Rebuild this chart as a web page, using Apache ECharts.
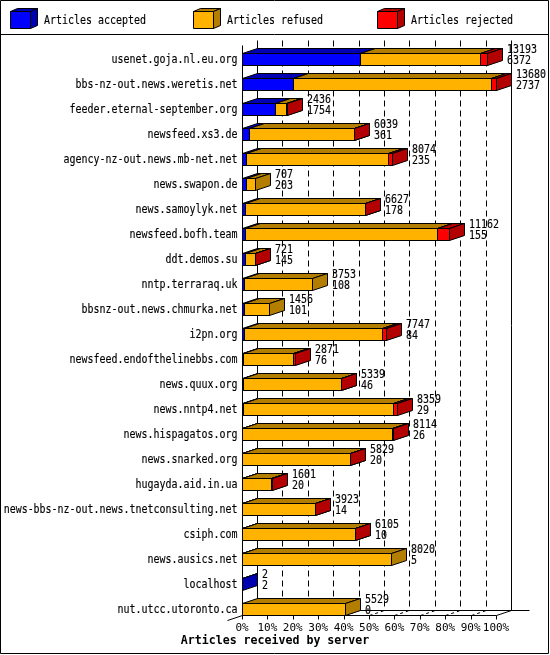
<!DOCTYPE html>
<html><head><meta charset="utf-8">
<script src="https://cdn.jsdelivr.net/npm/echarts@6/dist/echarts.min.js"></script>
<style>html,body{margin:0;padding:0;background:#fff}#c{width:550px;height:655px}</style>
</head><body><div id="c"></div>
<script>
// ---- data ----
const servers = [
  'usenet.goja.nl.eu.org','bbs-nz-out.news.weretis.net','feeder.eternal-september.org','newsfeed.xs3.de',
  'agency-nz-out.news.mb-net.net','news.swapon.de','news.samoylyk.net','newsfeed.bofh.team','ddt.demos.su',
  'nntp.terraraq.uk','bbsnz-out.news.chmurka.net','i2pn.org','newsfeed.endofthelinebbs.com','news.quux.org',
  'news.nntp4.net','news.hispagatos.org','news.snarked.org','hugayda.aid.in.ua',
  'news-bbs-nz-out.news.tnetconsulting.net','csiph.com','news.ausics.net','localhost','nut.utcc.utoronto.ca'
];
const accepted = [6372,2737,1754,361,235,203,178,155,145,108,101,84,76,46,29,26,20,20,14,10,5,2,0];
const refused  = [6471,10673,637,5653,7609,504,6429,10322,536,3645,1355,7483,2645,5273,8115,8058,5794,1566,3899,6085,8015,0,5529];
const rejected = [350,270,45,25,230,0,20,685,40,0,0,180,150,20,215,30,15,15,10,10,0,0,0];
const seriesNames = ['Articles accepted','Articles refused','Articles rejected'];
const xTicks = [0,10,20,30,40,50,60,70,80,90,100];
const axisTitle = 'Articles received by server';

// ---- derived ----
const totals = accepted.map((a,i)=>a+refused[i]+rejected[i]);
const maxTotal = Math.max(...totals);
const pct = v => v / maxTotal * 100;
const barData = servers.map((s,i)=>[i, pct(accepted[i]), pct(refused[i]), pct(rejected[i]), totals[i], accepted[i]]);

// ---- style ----
const FONT = 'DejaVu Sans Mono';
const fronts = ['#0000FF','#FFB200','#FF0000'];
const shades = ['#0000B3','#B37D00','#B30000'];
const DX = 15, DY = 5, HALF = 6, SX = 0.83, TSW = 0.15;
const px = v => Math.round(v) + 0.5;

function poly(points, fill){
  return {type:'polygon', shape:{points}, style:{fill, stroke:'#000', lineWidth:1}};
}
function line(x1,y1,x2,y2,dash){
  return {type:'line', shape:{x1,y1,x2,y2}, style:{stroke:'#000', lineWidth:1, lineDash: dash || null}};
}
function txt(x,y,text,align){
  return {type:'text', x, y, scaleX:SX, scaleY:1,
    style:{text, fontSize:12, fontFamily:FONT, fill:'#000', stroke:'#000', lineWidth:TSW,
      align:align||'left', verticalAlign:'middle'}};
}

function renderFrame(params, api){
  const X = v => px(api.coord([v, 0])[0]);
  const n = servers.length;
  const yFirst = api.coord([0,0])[1];
  const yLast = api.coord([0,n-1])[1];
  const F = px(yLast + HALF);
  const T = px(yFirst - 19);
  const X0 = X(0), X100 = X(100);
  const ch = [];
  xTicks.forEach(v=>{
    if (v > 0 && v < 100) {
      ch.push(line(X(v)+DX, T, X(v)+DX, F-DY, [6,4]));
      ch.push(line(X(v), F, X(v)+DX, F-DY, [3,3]));
    }
  });
  ch.push(line(X0+DX, T, X0+DX, F-DY));
  ch.push(line(X100+DX, T, X100+DX, F-DY));
  ch.push(line(X0+DX, F-DY, X100+DX+18, F-DY));
  ch.push(line(X0, px(yFirst-14), X0, F));
  ch.push(line(X0, F, X100, F));
  ch.push(line(X100, F, X100+DX, F-DY));
  ch.push(line(X0, F, X0-DX, F+DY));
  xTicks.forEach(v=>{ ch.push(line(X(v), F, X(v), F+4)); });
  return {type:'group', children: ch};
}

function renderBar(params, api){
  const i = api.value(0);
  const vals = [api.value(1), api.value(2), api.value(3)];
  const c0 = api.coord([0, i]);
  const yc = c0[1];
  const yt = px(yc - HALF), yb = px(yc + HALF);
  const ch = [];
  let cum = 0, endX = px(c0[0]);
  vals.forEach((v,s)=>{
    if (!(v > 0)) return;
    const a = px(api.coord([cum, i])[0]);
    cum += v;
    const b = Math.max(px(api.coord([cum, i])[0]), a);
    endX = b;
    ch.push(poly([[a,yt],[b,yt],[b,yb],[a,yb]], fronts[s]));
    ch.push(poly([[a,yt],[b,yt],[b+DX,yt-DY],[a+DX,yt-DY]], shades[s]));
    ch.push(poly([[b,yt],[b+DX,yt-DY],[b+DX,yb-DY],[b,yb]], shades[s]));
  });
  ch.push(txt(endX + DX + 4.5, yc - 9.5, String(api.value(4))));
  ch.push(txt(endX + DX + 4.5, yc + 1.8, String(api.value(5))));
  ch.push(txt(c0[0] - 4.5, yc + 0.8, servers[i], 'right'));
  return {type:'group', children: ch};
}

// legend graphic
const legendX = [10, 193, 377];
const legendEls = [];
seriesNames.forEach((name,k)=>{
  const L = legendX[k] + 0.5, t = 11.5, b = 28.5, r = L + 20;
  legendEls.push({type:'polygon', shape:{points:[[L,t],[r,t],[r,b],[L,b]]}, style:{fill:fronts[k], stroke:'#000'}});
  legendEls.push({type:'polygon', shape:{points:[[L,t],[r,t],[r+7,t-3],[L+7,t-3]]}, style:{fill:shades[k], stroke:'#000'}});
  legendEls.push({type:'polygon', shape:{points:[[r,t],[r+7,t-3],[r+7,b-3],[r,b]]}, style:{fill:shades[k], stroke:'#000'}});
  legendEls.push({type:'text', x: legendX[k] + 34, y: 20.5, scaleX: SX,
    style:{text:name, fontSize:12, fontFamily:FONT, fill:'#000', stroke:'#000', lineWidth:TSW,
      align:'left', verticalAlign:'middle'}});
});
legendEls.push({type:'rect', shape:{x:0.5,y:0.5,width:548,height:653}, style:{fill:null, stroke:'#000'}, z:100});
legendEls.push({type:'line', shape:{x1:0.5,y1:34.5,x2:548.5,y2:34.5}, style:{stroke:'#000'}, z:100});

const chart = echarts.init(document.getElementById('c'));
chart.setOption({
  backgroundColor:'#fff',
  animation:false,
  title:{text:axisTitle, left:'center', top:635, padding:0,
    textStyle:{fontFamily:FONT, fontWeight:'bold', fontSize:11.6, color:'#000'}},
  grid:{left:242, right:54, top:46.5, bottom:33.5, containLabel:false},
  xAxis:{type:'value', min:0, max:100, interval:10,
    axisLine:{show:false}, axisTick:{show:false}, splitLine:{show:false},
    axisLabel:{formatter: v => xTicks.includes(v) ? v + '%' : '', fontFamily:FONT, fontSize:11, color:'#000', margin:1}},
  yAxis:{type:'category', inverse:true, data:servers,
    axisLine:{show:false}, axisTick:{show:false}, axisLabel:{show:false}, splitLine:{show:false}},
  graphic: legendEls,
  series:[
    {type:'custom', name:'frame', data:[[0,0]], renderItem:renderFrame, silent:true, z:1,
      encode:{x:0, y:1}},
    {type:'custom', name:'bars', data:barData, renderItem:renderBar, z:2,
      encode:{x:[1,2,3], y:0}}
  ]
});
</script>
</body></html>
